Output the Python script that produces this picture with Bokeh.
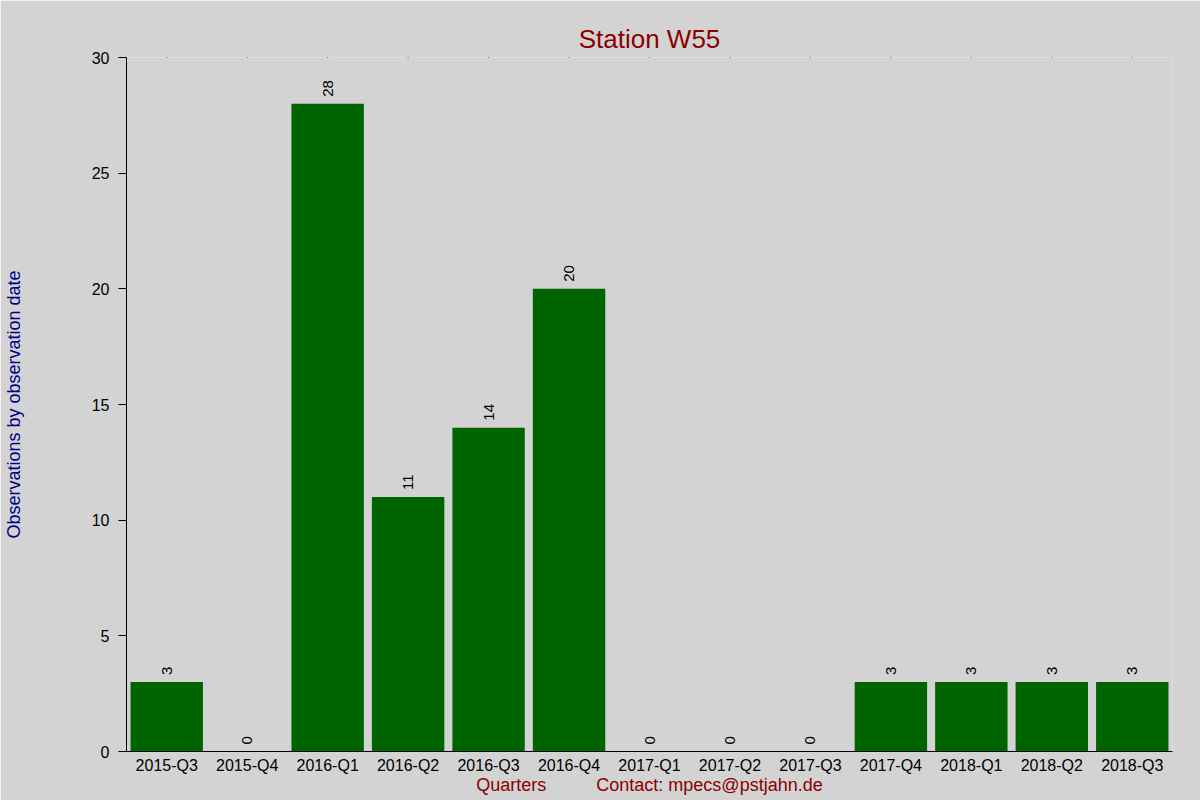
from bokeh.plotting import figure
from bokeh.models import (FactorRange, Range1d, ColumnDataSource, FixedTicker,
                          CategoricalAxis)
from bokeh.embed import file_html
from bokeh.resources import INLINE
from bokeh.core.properties import value
import math

quarters = ["2015-Q3", "2015-Q4", "2016-Q1", "2016-Q2", "2016-Q3", "2016-Q4",
            "2017-Q1", "2017-Q2", "2017-Q3", "2017-Q4", "2018-Q1", "2018-Q2", "2018-Q3"]
counts = [3, 0, 28, 11, 14, 20, 0, 0, 0, 3, 3, 3, 3]
y_ticks = [0, 5, 10, 15, 20, 25, 30]

title_text = "Station W55"
y_label = "Observations by observation date"
x_label = "Quarters" + "\u00a0" * 10 + "Contact: mpecs@pstjahn.de"

BG = "#d3d3d3"
FONT = "Liberation Sans"
y_max = y_ticks[-1]

src = ColumnDataSource(data=dict(q=quarters, n=counts, lbl=[str(c) for c in counts]))
top_src = ColumnDataSource(data=dict(q=quarters, t=[y_max] * len(quarters)))

p = figure(width=1200, height=800, output_backend="svg", toolbar_location=None,
           x_range=FactorRange(*quarters), y_range=Range1d(0, y_max),
           min_border_left=126, min_border_right=28, min_border_top=57, min_border_bottom=49)
xa = p.xaxis[0]
ya = p.yaxis[0]

p.background_fill_color = BG
p.border_fill_color = BG
p.outline_line_color = None
p.xgrid.visible = False
p.ygrid.visible = False

p.vbar(x="q", top="n", width=0.9, source=src, fill_color="#006400", line_color=None)
p.text(x="q", y="n", text="lbl", source=src, angle=math.pi / 2, y_offset=-7,
       text_align="left", text_baseline="middle", text_font=value(FONT),
       text_font_size="15px", text_color="#000000")
# tiny tick dots along the top edge
p.scatter(x="q", y="t", source=top_src, marker="square", size=1,
          fill_color="#000000", line_color=None)

# invisible spacer between frame and title
p.add_layout(CategoricalAxis(ticker=FixedTicker(ticks=[]), major_tick_out=20, major_tick_in=0,
                             major_tick_line_color=None, minor_tick_line_color=None,
                             minor_tick_out=0, minor_tick_in=0, axis_line_color=None,
                             major_label_standoff=0), "above")

# title
p.title.text = title_text
p.title.align = "center"
p.title.vertical_align = "top"
p.title.text_font = FONT
p.title.text_font_size = "26px"
p.title.text_font_style = "normal"
p.title.text_color = "#8b0000"
p.title.standoff = 4

# y axis
ya.ticker = FixedTicker(ticks=y_ticks)
ya.minor_tick_line_color = None
ya.major_tick_in = 0
ya.major_tick_out = 8
ya.major_label_standoff = 9
ya.major_label_text_font = FONT
ya.major_label_text_font_size = "16px"
ya.major_label_text_color = "#000000"
ya.axis_line_color = "#000000"
ya.major_tick_line_color = "#000000"
ya.axis_label = y_label
ya.axis_label_text_font = FONT
ya.axis_label_text_font_size = "18px"
ya.axis_label_text_font_style = "normal"
ya.axis_label_text_color = "#00008b"
ya.axis_label_standoff = 65

# x axis
xa.major_tick_in = 0
xa.major_tick_out = 0
xa.minor_tick_line_color = None
xa.major_label_standoff = 5
xa.major_label_text_font = FONT
xa.major_label_text_font_size = "16px"
xa.major_label_text_color = "#000000"
xa.axis_line_color = "#000000"
xa.axis_label = x_label
xa.axis_label_text_font = FONT
xa.axis_label_text_font_size = "18px"
xa.axis_label_text_font_style = "normal"
xa.axis_label_text_color = "#8b0000"
xa.axis_label_standoff = -2

open("out.html", "w").write(file_html(p, INLINE))
